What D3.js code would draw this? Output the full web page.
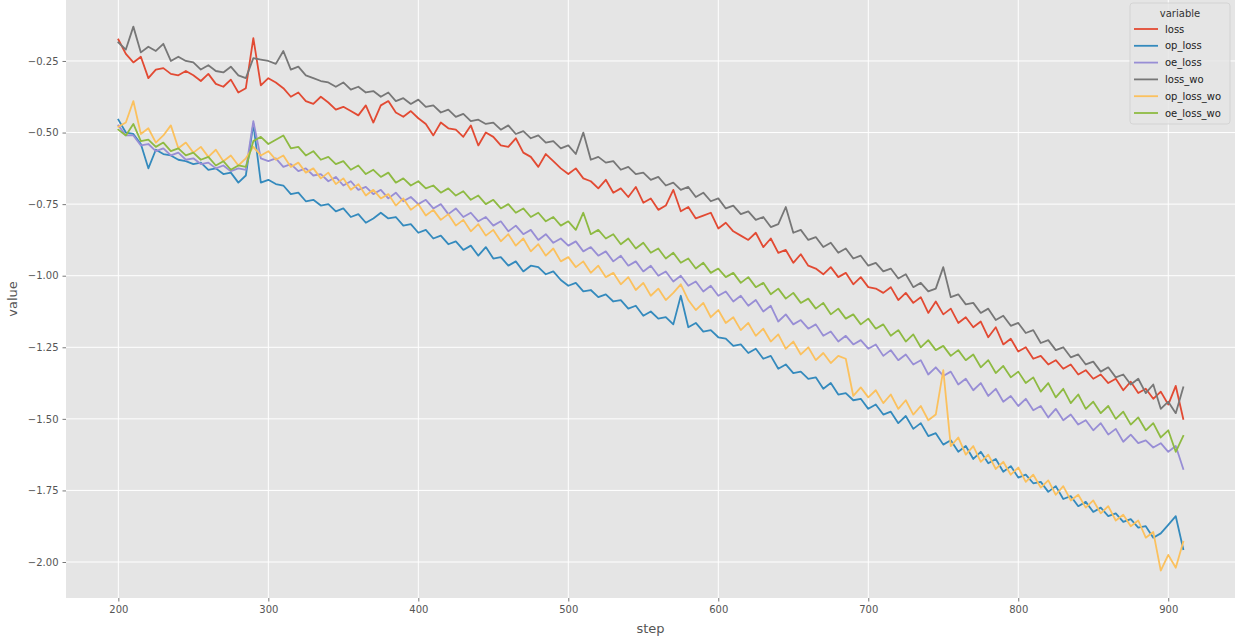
<!DOCTYPE html>
<html>
<head>
<meta charset="utf-8">
<script src="https://cdn.jsdelivr.net/npm/d3@7"></script>
<style>
  body { margin: 0; background: #fff; }
  svg { display: block; font-family: "DejaVu Sans", sans-serif; }
</style>
</head>
<body>
<svg id="chart" width="1240" height="639"></svg>
<script>
// steps sampled every 5 from 200 to 910
const steps = d3.range(200, 911, 5);

const seriesNames = ["loss", "op_loss", "oe_loss", "loss_wo", "op_loss_wo", "oe_loss_wo"];
const yTicks = [-2.0, -1.75, -1.5, -1.25, -1.0, -0.75, -0.5, -0.25];
const xTicks = [200, 300, 400, 500, 600, 700, 800, 900];

const loss = [
  -0.175, -0.225, -0.255, -0.235, -0.31, -0.28, -0.275, -0.295, -0.30, -0.285,
  -0.30, -0.32, -0.295, -0.33, -0.34, -0.315, -0.36, -0.345, -0.17, -0.335,
  -0.31, -0.325, -0.345, -0.375, -0.36, -0.39, -0.40, -0.375, -0.395, -0.42,
  -0.41, -0.425, -0.44, -0.405, -0.465, -0.405, -0.39, -0.43, -0.445, -0.425,
  -0.45, -0.47, -0.51, -0.465, -0.485, -0.49, -0.515, -0.475, -0.545, -0.50,
  -0.515, -0.545, -0.55, -0.52, -0.57, -0.585, -0.62, -0.575, -0.60, -0.625,
  -0.645, -0.625, -0.66, -0.67, -0.695, -0.665, -0.71, -0.695, -0.725, -0.69,
  -0.745, -0.73, -0.77, -0.755, -0.70, -0.775, -0.76, -0.80, -0.79, -0.78,
  -0.835, -0.815, -0.845, -0.86, -0.875, -0.85, -0.90, -0.87, -0.92, -0.91,
  -0.955, -0.925, -0.965, -0.975, -0.995, -0.97, -1.005, -0.99, -1.03, -1.005,
  -1.04, -1.045, -1.06, -1.04, -1.085, -1.06, -1.095, -1.075, -1.13, -1.09,
  -1.135, -1.115, -1.165, -1.145, -1.18, -1.16, -1.215, -1.18, -1.24, -1.22,
  -1.265, -1.25, -1.29, -1.28, -1.31, -1.295, -1.325, -1.31, -1.345, -1.33,
  -1.36, -1.345, -1.375, -1.36, -1.40, -1.37, -1.41, -1.395, -1.43, -1.405,
  -1.45, -1.385, -1.50
];

const op_loss = [
  -0.455, -0.50, -0.505, -0.54, -0.625, -0.56, -0.575, -0.58, -0.595, -0.60,
  -0.61, -0.605, -0.63, -0.625, -0.645, -0.64, -0.675, -0.65, -0.47, -0.675,
  -0.665, -0.68, -0.685, -0.715, -0.71, -0.74, -0.735, -0.755, -0.75, -0.775,
  -0.765, -0.795, -0.785, -0.815, -0.80, -0.78, -0.80, -0.795, -0.825, -0.82,
  -0.85, -0.84, -0.87, -0.86, -0.89, -0.88, -0.91, -0.895, -0.93, -0.90,
  -0.94, -0.935, -0.965, -0.95, -0.985, -0.965, -0.97, -0.995, -0.985, -1.015,
  -1.035, -1.025, -1.055, -1.05, -1.075, -1.065, -1.09, -1.085, -1.115, -1.105,
  -1.14, -1.125, -1.15, -1.145, -1.17, -1.07, -1.18, -1.165, -1.195, -1.19,
  -1.215, -1.22, -1.245, -1.24, -1.27, -1.255, -1.29, -1.28, -1.325, -1.31,
  -1.34, -1.335, -1.36, -1.355, -1.395, -1.375, -1.415, -1.41, -1.435, -1.43,
  -1.465, -1.45, -1.485, -1.475, -1.515, -1.49, -1.535, -1.515, -1.56, -1.55,
  -1.59, -1.575, -1.615, -1.595, -1.64, -1.615, -1.655, -1.64, -1.685, -1.665,
  -1.705, -1.695, -1.725, -1.72, -1.755, -1.735, -1.78, -1.77, -1.805, -1.79,
  -1.825, -1.81, -1.84, -1.83, -1.86, -1.85, -1.88, -1.875, -1.915, -1.90,
  -1.87, -1.84, -1.955
];

const oe_loss = [
  -0.475, -0.51, -0.51, -0.545, -0.54, -0.565, -0.555, -0.58, -0.57, -0.595,
  -0.59, -0.61, -0.605, -0.625, -0.615, -0.635, -0.625, -0.63, -0.46, -0.59,
  -0.60, -0.59, -0.62, -0.61, -0.635, -0.625, -0.65, -0.645, -0.67, -0.655,
  -0.685, -0.67, -0.70, -0.69, -0.715, -0.70, -0.73, -0.71, -0.74, -0.725,
  -0.75, -0.735, -0.765, -0.75, -0.785, -0.765, -0.795, -0.78, -0.81, -0.795,
  -0.825, -0.81, -0.845, -0.825, -0.855, -0.84, -0.875, -0.855, -0.885, -0.87,
  -0.895, -0.88, -0.915, -0.90, -0.93, -0.915, -0.95, -0.93, -0.965, -0.95,
  -0.985, -0.965, -1.00, -0.985, -1.02, -1.00, -1.035, -1.02, -1.055, -1.035,
  -1.07, -1.055, -1.09, -1.07, -1.105, -1.085, -1.125, -1.105, -1.16, -1.135,
  -1.17, -1.155, -1.185, -1.17, -1.21, -1.195, -1.23, -1.21, -1.24, -1.225,
  -1.255, -1.24, -1.28, -1.26, -1.295, -1.275, -1.31, -1.295, -1.345, -1.32,
  -1.35, -1.335, -1.38, -1.36, -1.40, -1.375, -1.42, -1.395, -1.44, -1.42,
  -1.455, -1.43, -1.47, -1.455, -1.495, -1.465, -1.505, -1.485, -1.52, -1.505,
  -1.54, -1.515, -1.555, -1.535, -1.58, -1.555, -1.585, -1.575, -1.60, -1.585,
  -1.615, -1.595, -1.675
];

const loss_wo = [
  -0.185, -0.21, -0.13, -0.22, -0.20, -0.215, -0.19, -0.25, -0.235, -0.25,
  -0.255, -0.28, -0.265, -0.285, -0.29, -0.27, -0.30, -0.31, -0.24, -0.245,
  -0.25, -0.26, -0.215, -0.28, -0.27, -0.30, -0.31, -0.32, -0.325, -0.34,
  -0.325, -0.35, -0.34, -0.36, -0.355, -0.375, -0.36, -0.39, -0.38, -0.40,
  -0.385, -0.41, -0.405, -0.43, -0.42, -0.445, -0.435, -0.46, -0.455, -0.47,
  -0.465, -0.49, -0.475, -0.505, -0.495, -0.52, -0.51, -0.535, -0.53, -0.555,
  -0.545, -0.575, -0.50, -0.595, -0.585, -0.605, -0.60, -0.63, -0.62, -0.645,
  -0.64, -0.665, -0.655, -0.685, -0.675, -0.70, -0.69, -0.725, -0.71, -0.74,
  -0.73, -0.765, -0.755, -0.785, -0.775, -0.805, -0.795, -0.83, -0.82, -0.76,
  -0.85, -0.84, -0.875, -0.865, -0.90, -0.885, -0.92, -0.905, -0.94, -0.93,
  -0.965, -0.955, -0.985, -0.975, -1.01, -0.995, -1.04, -1.025, -1.055, -1.045,
  -0.97, -1.075, -1.065, -1.10, -1.095, -1.13, -1.115, -1.155, -1.14, -1.175,
  -1.165, -1.20, -1.19, -1.235, -1.225, -1.26, -1.25, -1.285, -1.275, -1.31,
  -1.30, -1.335, -1.32, -1.355, -1.345, -1.38, -1.36, -1.41, -1.38, -1.465,
  -1.44, -1.48, -1.39
];

const op_loss_wo = [
  -0.48, -0.465, -0.39, -0.505, -0.485, -0.535, -0.51, -0.475, -0.555, -0.535,
  -0.57, -0.55, -0.585, -0.56, -0.60, -0.58, -0.615, -0.59, -0.55, -0.58,
  -0.565, -0.595, -0.58, -0.62, -0.605, -0.64, -0.625, -0.66, -0.64, -0.68,
  -0.66, -0.70, -0.68, -0.72, -0.70, -0.73, -0.715, -0.755, -0.73, -0.77,
  -0.75, -0.79, -0.77, -0.805, -0.785, -0.825, -0.805, -0.845, -0.82, -0.86,
  -0.84, -0.88, -0.855, -0.895, -0.87, -0.915, -0.89, -0.93, -0.905, -0.95,
  -0.935, -0.97, -0.95, -0.99, -0.965, -1.005, -0.99, -1.03, -1.005, -1.05,
  -1.025, -1.07, -1.045, -1.085, -1.06, -1.03, -1.085, -1.12, -1.095, -1.145,
  -1.12, -1.165, -1.145, -1.19, -1.165, -1.21, -1.185, -1.23, -1.205, -1.255,
  -1.23, -1.275, -1.25, -1.295, -1.27, -1.305, -1.28, -1.29, -1.42, -1.39,
  -1.425, -1.40, -1.445, -1.415, -1.465, -1.435, -1.485, -1.455, -1.505, -1.485,
  -1.33, -1.595, -1.565, -1.625, -1.595, -1.65, -1.625, -1.675, -1.65, -1.695,
  -1.67, -1.72, -1.695, -1.74, -1.715, -1.765, -1.735, -1.785, -1.765, -1.81,
  -1.785, -1.83, -1.805, -1.855, -1.835, -1.875, -1.855, -1.915, -1.895, -2.03,
  -1.975, -2.02, -1.93
];

const oe_loss_wo = [
  -0.49, -0.51, -0.47, -0.53, -0.525, -0.55, -0.535, -0.565, -0.555, -0.58,
  -0.57, -0.595, -0.585, -0.615, -0.60, -0.63, -0.615, -0.62, -0.53, -0.515,
  -0.54, -0.525, -0.51, -0.555, -0.55, -0.58, -0.565, -0.595, -0.585, -0.61,
  -0.60, -0.63, -0.615, -0.645, -0.63, -0.655, -0.64, -0.675, -0.66, -0.685,
  -0.67, -0.695, -0.685, -0.71, -0.695, -0.72, -0.705, -0.735, -0.72, -0.75,
  -0.735, -0.765, -0.75, -0.78, -0.765, -0.795, -0.78, -0.81, -0.795, -0.825,
  -0.81, -0.84, -0.78, -0.855, -0.84, -0.87, -0.855, -0.89, -0.87, -0.905,
  -0.885, -0.92, -0.905, -0.94, -0.92, -0.955, -0.94, -0.975, -0.955, -0.99,
  -0.975, -1.005, -0.99, -1.025, -1.005, -1.04, -1.025, -1.065, -1.045, -1.08,
  -1.06, -1.095, -1.08, -1.115, -1.095, -1.135, -1.115, -1.15, -1.135, -1.17,
  -1.15, -1.185, -1.17, -1.21, -1.19, -1.23, -1.205, -1.25, -1.225, -1.26,
  -1.245, -1.28, -1.26, -1.295, -1.275, -1.32, -1.295, -1.34, -1.315, -1.355,
  -1.335, -1.375, -1.355, -1.405, -1.375, -1.425, -1.395, -1.445, -1.415, -1.465,
  -1.44, -1.48, -1.455, -1.50, -1.475, -1.52, -1.495, -1.54, -1.515, -1.565,
  -1.54, -1.615, -1.56
];

const seriesValues = [loss, op_loss, oe_loss, loss_wo, op_loss_wo, oe_loss_wo];
const colors = ["#E24A33", "#348ABD", "#988ED5", "#777777", "#FBC15E", "#8EBA42"];

const svg = d3.select("#chart");
const margin = {left: 66, right: 5, top: 0, bottom: 41};
const W = 1240, H = 639;

let x = d3.scaleLinear().domain([165.1, 944.5]).range([margin.left, W - margin.right]);
let y = d3.scaleLinear().domain([-2.1257, -0.037]).range([H - margin.bottom, margin.top]);

// axes background
svg.append("rect")
  .attr("x", margin.left).attr("y", margin.top)
  .attr("width", W - margin.right - margin.left)
  .attr("height", H - margin.bottom - margin.top)
  .attr("fill", "#E5E5E5");

// grid
let grid = svg.append("g").attr("stroke", "#fff").attr("stroke-width", 1);
grid.selectAll("line.gx").data(xTicks).join("line")
  .attr("x1", d => x(d)).attr("x2", d => x(d))
  .attr("y1", margin.top).attr("y2", H - margin.bottom);
grid.selectAll("line.gy").data(yTicks).join("line")
  .attr("class", "gy")
  .attr("y1", d => y(d)).attr("y2", d => y(d))
  .attr("x1", margin.left).attr("x2", W - margin.right);

// axes
const fmt = d => d3.format(".2f")(d).replace("-", "\u2212");
let xAxis = svg.append("g")
  .attr("transform", `translate(0, ${H - margin.bottom})`)
  .call(d3.axisBottom(x).tickValues(xTicks).tickSize(3.5).tickPadding(4));
let yAxis = svg.append("g")
  .attr("transform", `translate(${margin.left}, 0)`)
  .call(d3.axisLeft(y).tickValues(yTicks).tickFormat(fmt).tickSize(3.5).tickPadding(4));

[xAxis, yAxis].forEach(a => {
  a.select(".domain").remove();
  a.selectAll(".tick line").attr("stroke", "#555").attr("stroke-width", 0.8);
  a.selectAll(".tick text").attr("fill", "#555").style("font-size", "10px")
    .style("font-family", "DejaVu Sans, sans-serif");
});

// lines
let line = d3.line()
  .x((d, i) => x(steps[i]))
  .y(d => y(d));

svg.append("g")
  .selectAll("path")
  .data(seriesValues)
  .join("path")
  .attr("d", line)
  .attr("fill", "none")
  .attr("stroke", (d, i) => colors[i])
  .attr("stroke-width", 1.8)
  .attr("stroke-linejoin", "round")
  .attr("stroke-linecap", "square");

// axis labels
svg.append("text")
  .attr("x", (margin.left + W - margin.right) / 2).attr("y", 633)
  .attr("text-anchor", "middle")
  .attr("fill", "#555").style("font-size", "13px")
  .text("step");
svg.append("text")
  .attr("transform", `translate(17, ${(H - margin.bottom) / 2}) rotate(-90)`)
  .attr("text-anchor", "middle")
  .attr("fill", "#555").style("font-size", "13px")
  .text("value");

// legend
let legend = svg.append("g").attr("transform", "translate(1130, 3)");
legend.append("rect")
  .attr("width", 100).attr("height", 121)
  .attr("rx", 3)
  .attr("fill", "#E5E5E5").attr("fill-opacity", 0.8)
  .attr("stroke", "#d0d0d0").attr("stroke-opacity", 0.8);
legend.append("text")
  .attr("x", 50).attr("y", 14)
  .attr("text-anchor", "middle")
  .attr("fill", "#333").style("font-size", "10px")
  .text("variable");
let items = legend.selectAll("g.item")
  .data(seriesNames)
  .join("g")
  .attr("class", "item")
  .attr("transform", (d, i) => `translate(0, ${26 + i * 16.8})`);
items.append("line")
  .attr("x1", 4).attr("x2", 28)
  .attr("stroke", (d, i) => colors[i])
  .attr("stroke-width", 1.8);
items.append("text")
  .attr("x", 35).attr("y", 3.5)
  .attr("fill", "#222").style("font-size", "10px")
  .text(d => d);
</script>
</body>
</html>
